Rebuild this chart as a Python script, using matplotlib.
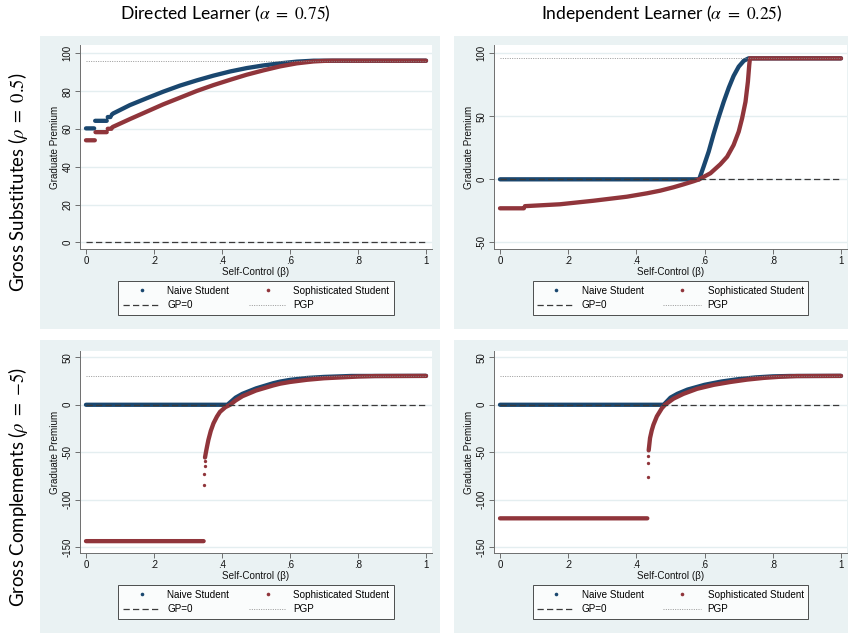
import numpy as np
import matplotlib
matplotlib.use("Agg")
import matplotlib.pyplot as plt
from matplotlib.patches import Rectangle
from matplotlib.lines import Line2D

nan = np.nan

# ---------------- data ----------------
col_titles = [r"Directed Learner ($\alpha\ =\ 0.75$)", r"Independent Learner ($\alpha\ =\ 0.25$)"]
row_titles = [r"Gross Substitutes ($\rho\ =\ 0.5$)", r"Gross Complements ($\rho\ =\ {-5}$)"]
x_ticks = [0, 0.2, 0.4, 0.6, 0.8, 1.0]
x_tick_labels = ["0", ".2", ".4", ".6", ".8", "1"]
beta_range = [0.0, 1.0]

# top-left: gross substitutes, directed learner
tl_naive_beta = [0.000, 0.024, nan, 0.027, 0.061, nan, 0.064, 0.072, nan, 0.076, 0.080, 0.129, 0.178,
                 0.227, 0.276, 0.326, 0.375, 0.424, 0.473, 0.522, 0.571, 0.620, 0.670, 0.700, 1.000]
tl_naive_gp = [60.3, 60.3, nan, 64.3, 64.3, nan, 66.3, 66.3, nan, 67.6, 68.2, 72.6, 76.2,
               79.7, 82.9, 85.7, 88.2, 90.4, 92.2, 93.6, 94.7, 95.6, 96.1, 96.1, 96.1]
tl_soph_beta = [0.000, 0.026, nan, 0.028, 0.061, nan, 0.064, 0.075, nan, 0.078, 0.129, 0.178, 0.227,
                0.276, 0.326, 0.375, 0.424, 0.473, 0.522, 0.571, 0.620, 0.669, 0.700, 0.725, 1.000]
tl_soph_gp = [54.0, 54.0, nan, 58.3, 58.3, nan, 60.1, 60.1, nan, 61.0, 65.2, 69.1, 73.0,
              76.5, 80.1, 83.2, 86.0, 88.7, 91.0, 93.1, 94.7, 95.7, 96.0, 96.1, 96.1]
tl_jump_beta, tl_jump_gp = [], []
tl_pgp = 96.1
tl_yticks = [0, 20, 40, 60, 80, 100]
tl_yticklabels = ["0", "20", "40", "60", "80", "100"]

# top-right: gross substitutes, independent learner
tr_naive_beta = [0.000, 0.584, 0.597, 0.612, 0.626, 0.641, 0.656, 0.671, 0.685, 0.700, 0.715, 0.729, 1.000]
tr_naive_gp = [0.0, 0.0, 10.0, 22.0, 35.5, 49.0, 61.5, 72.8, 82.0, 89.4, 94.1, 96.0, 96.0]
tr_soph_beta = [0.000, 0.070, nan, 0.073, 0.176, 0.274, 0.372, 0.431, 0.470, 0.509, 0.538, 0.568, 0.584,
                0.617, 0.646, 0.666, 0.685, 0.700, 0.710, 0.720, 0.727, 0.731, 0.733, 1.000]
tr_soph_gp = [-23.0, -23.0, nan, -21.3, -19.8, -17.0, -13.8, -11.1, -9.0, -6.3, -4.0, -1.5, 0.0,
              4.8, 11.9, 17.9, 27.2, 37.8, 48.4, 61.6, 77.5, 91.0, 96.0, 96.0]
tr_jump_beta, tr_jump_gp = [], []
tr_pgp = 96.0
tr_yticks = [-50, 0, 50, 100]
tr_yticklabels = ["-50", "0", "50", "100"]

# bottom-left: gross complements, directed learner
bl_naive_beta = [0.000, 0.416, 0.440, 0.460, 0.500, 0.550, 0.571, 0.600, 0.650, 0.700, 0.780, 1.000]
bl_naive_gp = [0.0, 0.0, 7.5, 11.5, 17.2, 22.6, 24.4, 26.2, 28.2, 29.3, 30.3, 30.4]
bl_soph_beta = [0.000, 0.346, nan, 0.350, 0.353, 0.356, 0.360, 0.367, 0.375, 0.385, 0.394, 0.410,
                0.424, 0.440, 0.460, 0.500, 0.550, 0.571, 0.600, 0.650, 0.700, 0.800, 0.850, 1.000]
bl_soph_gp = [-143.5, -143.5, nan, -55.5, -49.5, -44.0, -37.0, -27.5, -19.5, -12.5, -7.5, -2.5,
              0.0, 4.5, 9.0, 15.0, 20.3, 22.2, 24.0, 26.3, 27.9, 29.7, 30.2, 30.4]
bl_jump_beta = [0.347, 0.348, 0.349, 0.349]
bl_jump_gp = [-84.5, -72.5, -64.5, -59.5]
bl_pgp = 30.4
bl_yticks = [-150, -100, -50, 0, 50]
bl_yticklabels = ["-150", "-100", "-50", "0", "50"]

# bottom-right: gross complements, independent learner
br_naive_beta = [0.000, 0.480, 0.500, 0.520, 0.550, 0.600, 0.650, 0.700, 0.750, 0.800, 0.850, 1.000]
br_naive_gp = [0.0, 0.0, 7.5, 11.5, 16.0, 21.0, 24.5, 27.0, 28.8, 29.9, 30.3, 30.4]
br_soph_beta = [0.000, 0.432, nan, 0.436, 0.440, 0.445, 0.450, 0.460, 0.475, 0.484, 0.509, 0.538,
                0.578, 0.627, 0.676, 0.725, 0.774, 0.823, 0.870, 1.000]
br_soph_gp = [-119.5, -119.5, nan, -48.0, -35.0, -27.0, -21.0, -12.2, -3.5, 0.0, 6.5, 11.5,
              16.8, 21.0, 24.0, 26.5, 28.3, 29.5, 30.2, 30.4]
br_jump_beta = [0.433, 0.434, 0.435]
br_jump_gp = [-76.0, -61.0, -53.5]
br_pgp = 30.4
br_yticks = bl_yticks
br_yticklabels = bl_yticklabels

# ---------------- style ----------------
W, H = 848, 633
NAVY = "#1a476f"
MAROON = "#90353b"
BG = "#eaf2f3"
GRID = "#e4eef0"
AXC = "#6e6e6e"
plt.rcParams["font.family"] = ["Liberation Sans", "DejaVu Sans"]
plt.rcParams["mathtext.fontset"] = "stix"

fig = plt.figure(figsize=(W / 100, H / 100), dpi=100)
fig.patch.set_facecolor("white")


def px_rect(x0, y0, x1, y1):
    return [x0 / W, 1 - y1 / H, (x1 - x0) / W, (y1 - y0) / H]


for (x0, y0, x1, y1) in [(40, 36, 440, 329), (454, 36, 848, 329), (40, 340, 440, 633), (454, 340, 848, 633)]:
    r = px_rect(x0, y0, x1, y1)
    fig.patches.append(Rectangle((r[0], r[1]), r[2], r[3], transform=fig.transFigure,
                                 facecolor=BG, edgecolor="none", zorder=-5))

panels = [
    dict(rect=(80, 45, 432, 249), ylim=(-3.5, 104.4),
         nb=tl_naive_beta, ng=tl_naive_gp, sb=tl_soph_beta, sg=tl_soph_gp,
         jb=tl_jump_beta, jg=tl_jump_gp, pgp=tl_pgp, yt=tl_yticks, ytl=tl_yticklabels),
    dict(rect=(494, 45, 847, 249), ylim=(-55.3, 106.6),
         nb=tr_naive_beta, ng=tr_naive_gp, sb=tr_soph_beta, sg=tr_soph_gp,
         jb=tr_jump_beta, jg=tr_jump_gp, pgp=tr_pgp, yt=tr_yticks, ytl=tr_yticklabels),
    dict(rect=(80, 350.7, 432, 553.3), ylim=(-156.3, 56.9),
         nb=bl_naive_beta, ng=bl_naive_gp, sb=bl_soph_beta, sg=bl_soph_gp,
         jb=bl_jump_beta, jg=bl_jump_gp, pgp=bl_pgp, yt=bl_yticks, ytl=bl_yticklabels),
    dict(rect=(494, 350.7, 847, 553.3), ylim=(-156.3, 56.9),
         nb=br_naive_beta, ng=br_naive_gp, sb=br_soph_beta, sg=br_soph_gp,
         jb=br_jump_beta, jg=br_jump_gp, pgp=br_pgp, yt=br_yticks, ytl=br_yticklabels),
]

for p in panels:
    ax = fig.add_axes(px_rect(*p["rect"]))
    ax.set_zorder(1)
    ax.set_facecolor("white")
    ax.set_xlim(-0.0176, 1.0176)
    ax.set_ylim(*p["ylim"])
    for yv in p["yt"]:
        ax.axhline(yv, color=GRID, lw=1.0, zorder=1)
    ax.plot(p["nb"], p["ng"], color=NAVY, lw=3.1, solid_capstyle="round", zorder=3)
    ax.plot(p["sb"], p["sg"], color=MAROON, lw=3.1, solid_capstyle="round", zorder=4)
    if p["jb"]:
        ax.plot(p["jb"], p["jg"], "o", color=MAROON, ms=2.4, mew=0, zorder=4)
    ax.hlines(0, beta_range[0], beta_range[1], colors="#3a3a3a", lw=0.9,
              linestyles=(0, (5, 2.6)), zorder=5)
    ax.hlines(p["pgp"], beta_range[0], beta_range[1], colors="#8a8a8a", lw=0.6,
              linestyles=(0, (1.2, 1.6)), zorder=5)

    for s in ["top", "right"]:
        ax.spines[s].set_visible(False)
    for s in ["left", "bottom"]:
        ax.spines[s].set_color(AXC)
        ax.spines[s].set_linewidth(0.7)
    ax.set_xticks(x_ticks)
    ax.set_xticklabels(x_tick_labels)
    ax.set_yticks(p["yt"])
    ax.set_yticklabels(p["ytl"])
    ax.tick_params(axis="both", color=AXC, length=3.6, width=0.7, labelsize=7.0, labelcolor="#111111")
    ax.tick_params(axis="x", pad=1.5)
    ax.tick_params(axis="y", pad=1.8)
    for lab in ax.get_yticklabels():
        lab.set_rotation(90)
        lab.set_va("center")
    ax.set_xlabel("Self-Control (β)", fontsize=7.1, labelpad=0.5, color="#111111")
    ax.set_ylabel("Graduate Premium", fontsize=7.1, labelpad=2, color="#111111")

    handles = [
        Line2D([], [], ls="none", marker="o", ms=2.6, mew=0, color=NAVY),
        Line2D([], [], color="#3a3a3a", lw=0.9, ls=(0, (5, 2.6))),
        Line2D([], [], ls="none", marker="o", ms=2.6, mew=0, color=MAROON),
        Line2D([], [], color="#8a8a8a", lw=0.6, ls=(0, (1.2, 1.6))),
    ]
    labels = ["Naive Student", "GP=0", "Sophisticated Student", "PGP"]
    leg = ax.legend(handles, labels, ncol=2, loc="upper center", bbox_to_anchor=(0.5, -0.158),
                    fontsize=7.1, frameon=True, fancybox=False, edgecolor="#222222",
                    handlelength=3.8, handletextpad=0.7, columnspacing=2.0,
                    labelspacing=0.45, borderpad=0.45, borderaxespad=0)
    leg.get_frame().set_linewidth(0.7)

# column and row titles
title_font = ["Lato", "DejaVu Sans"]
fig.text(225 / W, 1 - 14 / H, col_titles[0], ha="center", va="center", fontsize=12.6, family=title_font)
fig.text(662 / W, 1 - 14 / H, col_titles[1], ha="center", va="center", fontsize=12.6, family=title_font)
fig.text(18 / W, 1 - 182 / H, row_titles[0], ha="center", va="center", rotation=90, fontsize=13.4, family=title_font)
fig.text(18 / W, 1 - 487 / H, row_titles[1], ha="center", va="center", rotation=90, fontsize=13.4, family=title_font)

fig.savefig("out.png", dpi=100, facecolor="white")
